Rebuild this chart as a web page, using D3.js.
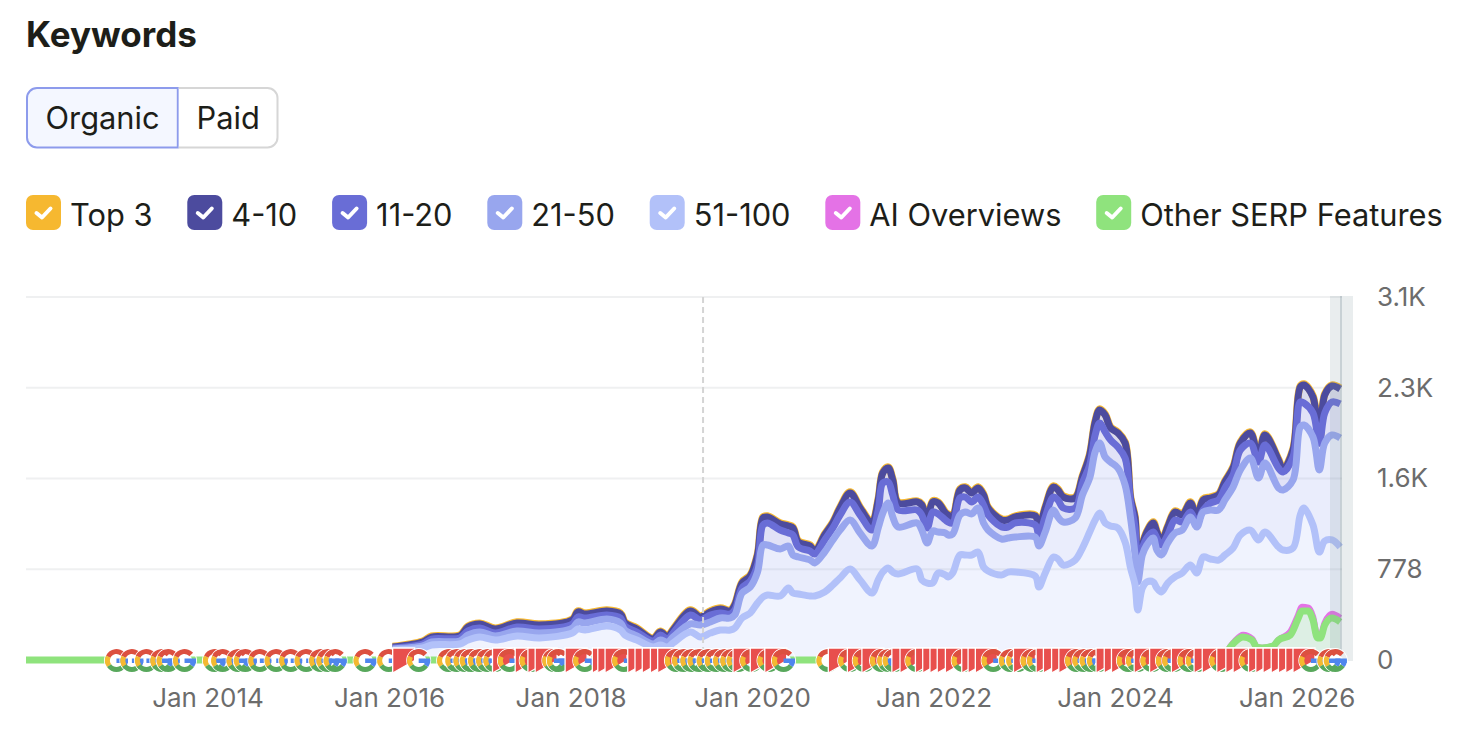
<!DOCTYPE html>
<html><head><meta charset="utf-8">
<script src="https://cdn.jsdelivr.net/npm/d3@7"></script>
<style>
html,body{margin:0;padding:0;background:#fff}
svg{display:block}
text{font-family:Inter,"Noto Sans",sans-serif}
</style></head><body>
<svg id="c" width="1474" height="740"></svg>
<script>
// Dates as decimal years; values are cumulative keyword counts at each position band
const dates = [
2016.04,2016.37,2016.47,2016.78,2016.87,2017.00,2017.17,2017.41,2017.66,2018.02,
2018.08,2018.16,2018.40,2018.55,2018.60,2018.73,2018.91,2018.99,2019.07,2019.13,
2019.32,2019.43,2019.54,2019.65,2019.76,2019.81,2019.89,2019.98,2020.06,2020.12,
2020.17,2020.31,2020.40,2020.45,2020.51,2020.64,2020.69,2020.80,2020.89,2020.97,
2021.08,2021.19,2021.32,2021.39,2021.44,2021.50,2021.55,2021.61,2021.82,2021.87,
2021.93,2021.99,2022.05,2022.13,2022.16,2022.21,2022.29,2022.35,2022.42,2022.49,
2022.55,2022.60,2022.75,2022.82,2022.90,2023.12,2023.16,2023.23,2023.32,2023.37,
2023.43,2023.56,2023.64,2023.72,2023.78,2023.83,2023.89,2023.95,2024.03,2024.11,
2024.17,2024.22,2024.25,2024.30,2024.35,2024.42,2024.46,2024.51,2024.58,2024.66,
2024.74,2024.83,2024.90,2024.97,2025.05,2025.14,2025.21,2025.30,2025.38,2025.49,
2025.58,2025.65,2025.80,2025.85,2025.96,2026.04,2026.08,2026.18,2026.25,2026.31,
2026.39,2026.48];
const top3 = [
115,160,204,213,290,316,273,325,308,351,
420,402,428,402,325,274,187,247,204,265,
428,377,420,445,428,480,668,728,908,1225,
1234,1174,1157,1140,1020,985,934,1080,1183,1311,
1440,1311,1183,1380,1611,1654,1551,1354,1363,1337,
1208,1363,1354,1268,1251,1234,1465,1483,1440,1483,
1423,1311,1208,1208,1234,1243,1140,1311,1491,1465,
1405,1397,1577,1765,2048,2151,2108,1997,1954,1868,
1397,1225,848,994,1105,1183,1105,1020,1148,1277,
1251,1354,1225,1380,1397,1423,1534,1654,1868,1954,
1748,1937,1723,1637,1808,2348,2366,2263,1868,2280,
2357,2331];
const pos4to10 = [
111,154,197,206,283,309,266,317,300,343,
412,394,420,394,317,266,180,240,197,257,
420,369,412,437,420,472,660,720,900,1217,
1226,1166,1149,1132,1012,977,926,1072,1175,1303,
1432,1303,1175,1372,1603,1646,1543,1346,1355,1329,
1200,1355,1346,1260,1243,1226,1457,1475,1432,1475,
1415,1303,1200,1200,1226,1235,1132,1303,1483,1457,
1397,1389,1569,1757,2040,2143,2100,1989,1946,1860,
1389,1217,840,986,1097,1175,1097,1012,1140,1269,
1243,1346,1217,1372,1389,1415,1526,1646,1860,1946,
1740,1929,1715,1629,1800,2340,2358,2255,1860,2272,
2349,2323];
const pos11to20 = [
103,137,180,189,249,274,231,283,266,309,
369,360,386,360,291,240,163,214,180,231,
386,343,386,403,394,429,617,677,814,1157,
1175,1114,1089,1072,969,934,909,1029,1132,1243,
1355,1243,1114,1286,1517,1526,1415,1286,1286,1243,
1132,1269,1252,1200,1183,1175,1389,1397,1355,1397,
1329,1243,1140,1140,1175,1157,1072,1226,1397,1372,
1303,1303,1517,1672,1929,2032,1955,1886,1826,1732,
1355,1132,789,960,1046,1097,1046,986,1072,1200,
1183,1269,1175,1286,1346,1372,1475,1586,1800,1860,
1697,1843,1646,1612,1740,2212,2203,2118,1860,2118,
2212,2195];
const pos21to50 = [
94,120,154,163,214,240,206,249,231,274,
326,317,351,317,257,206,137,171,154,197,
309,300,326,360,360,386,574,626,754,986,
986,952,977,900,883,857,832,926,1029,1114,
1200,1089,977,1132,1260,1346,1226,1140,1175,1114,
1003,1106,1097,1089,1072,1080,1243,1269,1252,1303,
1175,1114,1037,1046,1054,1054,977,1097,1286,1226,
1183,1217,1415,1560,1783,1860,1740,1697,1646,1500,
1217,900,669,900,986,1046,943,900,1003,1089,
1114,1226,1140,1269,1286,1286,1372,1483,1629,1732,
1560,1689,1475,1457,1543,1997,2015,1912,1629,1860,
1929,1903];
const pos51to100 = [
86,103,129,137,171,197,171,206,189,231,
266,257,291,257,214,171,111,129,111,146,
240,197,231,257,257,274,360,403,489,540,
557,549,617,574,566,549,549,583,643,703,
780,686,574,686,754,789,754,737,780,686,
660,660,746,729,712,746,900,900,900,926,
797,763,729,754,754,720,626,746,883,866,
814,857,960,1097,1200,1260,1175,1149,1132,1012,
789,643,429,617,669,669,617,583,660,712,
746,814,746,883,866,857,900,960,1072,1114,
1029,1097,969,943,960,1243,1303,1157,926,1020,
1029,969];

const serpDates = [2012,2025.15,2025.21,2025.27,2025.32,2025.41,2025.51,2025.56,2025.62,2025.74,2025.80,2025.93,2026.01,2026.06,2026.13,2026.18,2026.23,2026.26,2026.31,2026.39,2026.48];
const otherSerp = [0,0,34,111,154,197,171,111,103,120,171,214,343,420,420,343,189,189,300,360,326];
const aiOverviews = [0,0,34,115,160,214,180,111,103,120,171,240,369,454,446,369,197,197,317,394,360];

const googleUpdates = [2012.87,2013.04,2013.20,2013.37,2013.44,2013.62,2013.95,2014.04,2014.21,2014.29,2014.45,2014.63,2014.79,2014.96,2015.12,2015.20,2015.28,2015.61,2015.87,2016.20,2016.53,2016.62,2016.71,2016.78,2016.87,2016.96,2017.04,2017.20,2017.44,2017.69,2017.74,2018.03,2018.46,2019.04,2019.12,2019.21,2019.29,2019.39,2019.48,2019.57,2019.65,2019.72,2019.87,2020.06,2020.22,2020.71,2020.95,2021.11,2021.30,2021.38,2021.44,2021.69,2022.20,2022.53,2022.72,2022.80,2022.96,2023.03,2023.45,2023.53,2023.61,2023.69,2024.02,2024.12,2024.28,2024.45,2024.52,2024.69,2024.78,2025.04,2025.37,2026.03,2026.23,2026.30];
const flagUpdates = [2016.04,2017.14,2017.39,2017.53,2017.61,2017.94,2018.24,2018.30,2018.38,2018.63,2018.71,2018.79,2018.88,2018.96,2019.79,2019.98,2020.14,2020.84,2021.05,2021.21,2021.54,2021.63,2021.80,2021.88,2021.96,2022.04,2022.13,2022.31,2022.38,2022.46,2022.88,2023.13,2023.21,2023.30,2023.38,2023.79,2023.88,2023.96,2024.21,2024.38,2024.62,2024.87,2024.96,2025.12,2025.22,2025.30,2025.47,2025.55,2025.63,2025.72,2025.80,2025.88,2025.96];

const yTicks = [0,778,1556,2334,3112];
const yTickLabels = ["0","778","1.6K","2.3K","3.1K"];
const xTicks = [2014,2016,2018,2020,2022,2024,2026];
const markerDate = 2019.46;
const legendLabels = ["Top 3","4-10","11-20","21-50","51-100","AI Overviews","Other SERP Features"];
const legendColors = ["#f6b830","#4c4b9e","#696dd6","#98a6ee","#b2c1f9","#e472e6","#8fe37d"];

const svg = d3.select("#c");
const x = d3.scaleLinear().domain([2012,2026.5]).range([26,1342]);
const y = d3.scaleLinear().domain([0,3112]).range([660,297]);
const left = 26, right = 1342, bandL = 1330, bandR = 1353;

// title and toggle
svg.append("text").attr("x",26).attr("y",46.5).attr("font-size",35).attr("font-weight",700).attr("fill","#1d1e19").text("Keywords");
svg.append("path").attr("d","M177.8,88 H37 a10,10 0 0 0 -10,10 V137.5 a10,10 0 0 0 10,10 H177.8 Z").attr("fill","#f4f7ff").attr("stroke","#8d9bec").attr("stroke-width",2);
svg.append("path").attr("d","M178.8,88 H267.5 a10,10 0 0 1 10,10 V137.5 a10,10 0 0 1 -10,10 H178.8").attr("fill","#fff").attr("stroke","#d6d6d6").attr("stroke-width",2);
svg.append("text").attr("x",45.5).attr("y",129).attr("font-size",30.8).attr("fill","#1d1e19").text("Organic");
svg.append("text").attr("x",196.5).attr("y",129).attr("font-size",30.8).attr("fill","#1d1e19").text("Paid");

// legend
let lx = 26;
legendLabels.forEach((t,i)=>{
  const g = svg.append("g").attr("transform",`translate(${lx},195)`);
  g.append("rect").attr("width",35).attr("height",35).attr("rx",7).attr("fill",legendColors[i]);
  g.append("path").attr("d","M10.5,18 L16,22.5 L24.5,13.5").attr("fill","none").attr("stroke","#fff").attr("stroke-width",4).attr("stroke-linecap","round").attr("stroke-linejoin","round");
  const tx = g.append("text").attr("x",44).attr("y",31).attr("font-size",30.8).attr("fill","#1d1e19").text(t);
  lx += 44 + tx.node().getComputedTextLength() + 34.8;
});

// grid
svg.append("g").selectAll("line").data(yTicks.slice(1)).join("line")
  .attr("x1",left).attr("x2",right).attr("y1",d=>y(d)).attr("y2",d=>y(d))
  .attr("stroke","#eff0f1").attr("stroke-width",2);

// bands
const idx = d3.range(dates.length);
const cols = [top3,pos4to10,pos11to20,pos21to50,pos51to100];
const colColors = legendColors.slice(0,5);
const curve = d3.curveCatmullRom.alpha(0.5);
const bands = svg.append("g");
cols.forEach((arr,k)=>{
  const lower = cols[k+1];
  bands.append("path").datum(idx)
    .attr("d",d3.area().curve(curve).x(i=>x(dates[i])).y0(i=>y(lower?lower[i]:0)).y1(i=>y(arr[i])))
    .attr("fill",colColors[k]).attr("fill-opacity",0.2);
});
// lines
cols.forEach((arr,k)=>{
  svg.append("path").datum(idx)
    .attr("d",d3.line().curve(curve).x(i=>x(dates[i])).y(i=>y(arr[i])))
    .attr("fill","none").attr("stroke",colColors[k]).attr("stroke-width",k===0?7.5:7).attr("stroke-linejoin","round");
});
// marker
svg.append("line").attr("x1",x(markerDate)).attr("x2",x(markerDate)).attr("y1",y(3112)).attr("y2",y(0))
  .attr("stroke","#d4d4d4").attr("stroke-width",2).attr("stroke-dasharray","6,4");

// SERP features
const sIdx = d3.range(serpDates.length);
const serpCurve = d3.curveMonotoneX;
svg.append("path").datum(sIdx).attr("d",d3.area().curve(serpCurve).x(i=>x(serpDates[i])).y0(y(0)).y1(i=>y(otherSerp[i])))
  .attr("fill","#8fe37d").attr("fill-opacity",0.2);
svg.append("path").datum(sIdx.slice(1)).attr("d",d3.line().curve(serpCurve).x(i=>x(serpDates[i])).y(i=>y(aiOverviews[i])))
  .attr("fill","none").attr("stroke",legendColors[5]).attr("stroke-width",6.5).attr("stroke-linejoin","round");
svg.append("path").datum(sIdx).attr("d",d3.line().curve(serpCurve).x(i=>x(serpDates[i])).y(i=>y(otherSerp[i])))
  .attr("fill","none").attr("stroke",legendColors[6]).attr("stroke-width",7).attr("stroke-linejoin","round");

// right grey band
svg.append("rect").attr("x",bandL).attr("y",y(3112)-1).attr("width",bandR-bandL).attr("height",y(0)-y(3112)+2)
  .attr("fill","#7f939c").attr("fill-opacity",0.17);
svg.append("rect").attr("x",1340).attr("y",y(3112)-1).attr("width",2).attr("height",y(0)-y(3112)+2)
  .attr("fill","#7f939c").attr("fill-opacity",0.3);

// update icons
const updates = googleUpdates.map(d=>({d,k:"G"})).concat(flagUpdates.map(d=>({d,k:"F"}))).sort((a,b)=>d3.ascending(a.d,b.d));
const rad = a=>a*Math.PI/180;
const arc = d3.arc().innerRadius(6.5).outerRadius(11.5);
const gc = {red:"#dc5040",yellow:"#f4b931",green:"#58a85c",blue:"#4f86ee"};
const icons = svg.append("g").attr("transform","translate(0,660.5)");
icons.selectAll("circle").data(updates.filter(u=>u.k==="G")).join("circle")
  .attr("cx",u=>x(u.d)+11.5).attr("r",7.5).attr("fill","#fff");
updates.forEach(u=>{
  const g = icons.append("g").attr("transform",`translate(${x(u.d)},0)`);
  if(u.k==="F"){
    g.append("path").attr("d","M0,-12.5 H22 V0 L0,12.5 Z").attr("fill","#e84f4d").attr("stroke","#fff").attr("stroke-width",1.3);
  } else {
    const c = g.append("g").attr("transform","translate(11.5,0)");
    c.append("path").attr("d",d3.arc().innerRadius(11.5).outerRadius(12.5)({startAngle:0,endAngle:2*Math.PI})).attr("fill","#fff");
    [[-65,48,gc.red],[-125,-65,gc.yellow],[125,235,gc.green],[88,125,gc.blue]].forEach(([a,b,col])=>{
      c.append("path").attr("d",arc({startAngle:rad(a),endAngle:rad(b)})).attr("fill",col);
    });
    c.append("rect").attr("x",0).attr("y",-2).attr("width",11.5).attr("height",4.5).attr("fill",gc.blue);
  }
});

// axes
const xAxis = svg.append("g").attr("transform","translate(0,660)")
  .call(d3.axisBottom(x).tickValues(xTicks).tickSize(0).tickPadding(29).tickFormat(d=>`Jan ${d}`));
const yAxis = svg.append("g").attr("transform","translate(1353,0)")
  .call(d3.axisRight(y).tickValues(yTicks).tickSize(0).tickPadding(24).tickFormat((d,i)=>yTickLabels[i]));
[xAxis,yAxis].forEach(a=>{
  a.select(".domain").remove();
  a.selectAll("text").attr("font-size",26).attr("fill","#6c6c6c").style("font-family","Inter");
});
</script>
</body></html>
